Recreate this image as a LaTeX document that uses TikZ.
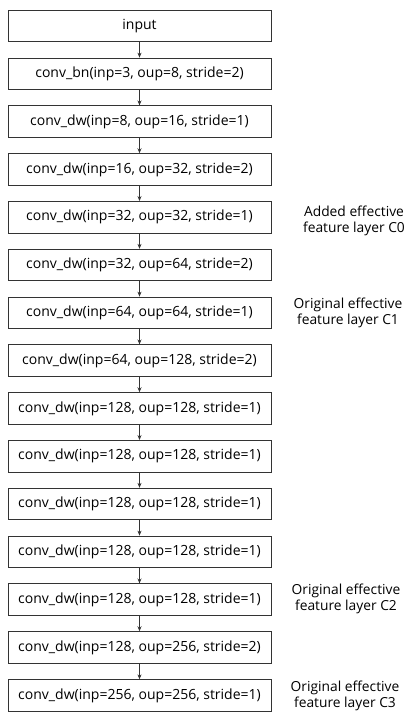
\documentclass[tikz,border=0pt]{standalone}
\usepackage{fontspec}
\setmainfont{Open Sans}
\usetikzlibrary{arrows.meta}
\begin{document}
\begin{tikzpicture}[x=1pt,y=-1pt,
  layerbox/.style={draw=black!80, line width=0.8pt, minimum width=263pt, minimum height=31.5pt, inner sep=0pt, font=\fontsize{14}{16}\selectfont},
  sidelabel/.style={align=center, font=\fontsize{13.8}{16.5}\selectfont, inner sep=0pt},
  arr/.style={-{Stealth[length=5pt,width=4pt]}, line width=0.8pt, black!80}]
\useasboundingbox (0,0) rectangle (416,721);
\def\bx{139.5}
\node[layerbox] (b0) at (\bx,26) {input};
\node[layerbox] (b1) at (\bx,73.8) {conv\_bn(inp=3, oup=8, stride=2)};
\node[layerbox] (b2) at (\bx,121.6) {conv\_dw(inp=8, oup=16, stride=1)};
\node[layerbox] (b3) at (\bx,169.4) {conv\_dw(inp=16, oup=32, stride=2)};
\node[layerbox] (b4) at (\bx,217.2) {conv\_dw(inp=32, oup=32, stride=1)};
\node[layerbox] (b5) at (\bx,265) {conv\_dw(inp=32, oup=64, stride=2)};
\node[layerbox] (b6) at (\bx,312.8) {conv\_dw(inp=64, oup=64, stride=1)};
\node[layerbox] (b7) at (\bx,360.6) {conv\_dw(inp=64, oup=128, stride=2)};
\node[layerbox] (b8) at (\bx,408.4) {conv\_dw(inp=128, oup=128, stride=1)};
\node[layerbox] (b9) at (\bx,456.2) {conv\_dw(inp=128, oup=128, stride=1)};
\node[layerbox] (b10) at (\bx,504) {conv\_dw(inp=128, oup=128, stride=1)};
\node[layerbox] (b11) at (\bx,551.8) {conv\_dw(inp=128, oup=128, stride=1)};
\node[layerbox] (b12) at (\bx,599.6) {conv\_dw(inp=128, oup=128, stride=1)};
\node[layerbox] (b13) at (\bx,647.4) {conv\_dw(inp=128, oup=256, stride=2)};
\node[layerbox] (b14) at (\bx,695.5) {conv\_dw(inp=256, oup=256, stride=1)};
\foreach \i [evaluate=\i as \j using int(\i+1)] in {0,...,13}
  \draw[arr] (b\i.south) -- (b\j.north);
\node[sidelabel] (l0) at (354,221) {Added effective\\feature layer C0};
\node[sidelabel] (l1) at (348,313) {Original effective\\feature layer C1};
\node[sidelabel] (l2) at (346,599) {Original effective\\feature layer C2};
\node[sidelabel] (l3) at (345,696) {Original effective\\feature layer C3};
\end{tikzpicture}
\end{document}
